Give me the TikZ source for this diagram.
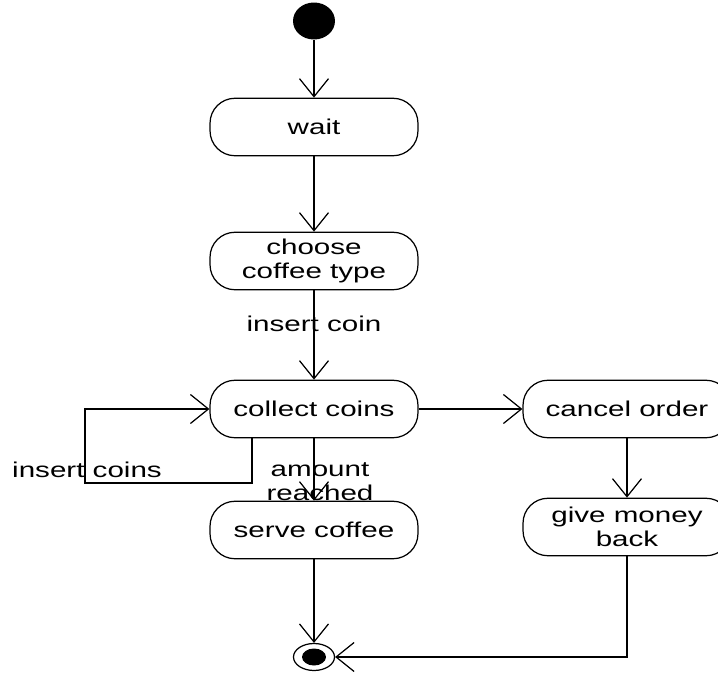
\documentclass[tikz,border=0pt]{standalone}
\usepackage{fontspec}
\newfontfamily\diagfont{Liberation Sans}[FakeStretch=1.38]
\usepackage{tikz}
\usetikzlibrary{arrows.meta,positioning,shapes.geometric,calc}

\begin{document}
\begin{tikzpicture}[
        x=0.02cm, y=-0.02cm,
        line width=0.7pt,
        every node/.style={font=\diagfont\fontsize{12.2}{13.8}\selectfont},
        state/.style={draw, rounded corners=0.5cm, align=center,
                      minimum width=4.16cm, minimum height=1.15cm, inner sep=0pt},
        trans/.style={-{Straight Barb[length=3.6mm,width=5.8mm]}}
      ]

        \useasboundingbox (0,0) rectangle (718,673);
        \clip (0,0) rectangle (718,673);

        % Start / end ----------------------------------------------
        \node[ellipse, fill=black, inner sep=0pt,
              minimum width=0.84cm, minimum height=0.74cm] (init) at (314,21) {};
        \node[ellipse, draw, inner sep=0pt,
              minimum width=0.82cm, minimum height=0.54cm] (final) at (314,657) {};
        \node[ellipse, fill=black, inner sep=0pt,
              minimum width=0.48cm, minimum height=0.34cm] (finalin) at (final) {};

        % States ---------------------------------------------------
        \node[state] (wait)     at (314,127) {wait};
        \node[state] (choose)   at (314,261) {choose\\coffee type};
        \node[state] (collect)  at (314,409) {collect coins};
        \node[state] (serve)    at (314,530) {serve coffee};
        \node[state] (cancel)   at (627,409) {cancel order};
        \node[state] (giveback) at (627,527) {give money\\back};

        % Transitions ----------------------------------------------
        \draw[trans] (init) -- (wait);
        \draw[trans] (wait) -- (choose);
        \draw[trans] (choose) -- (collect)
          node[pos=0.38] {insert coin};
        \draw[trans] (collect) -- (serve)
          node[pos=0.7, align=center, xshift=0.12cm] {amount\\reached};
        \draw[trans] (serve) -- (final);
        \draw[trans] (collect) -- (cancel);
        \draw[trans] (cancel) -- (giveback);
        \draw[trans] (giveback.south) |- (final.east);

        % Self loop on collect coins -------------------------------
        \coordinate (loop) at (85,483);
        \draw[trans] (collect.south -| 252,0) |- (loop) |- (collect.west);
        \node at (87,470) {insert coins};

      \end{tikzpicture}
\end{document}
